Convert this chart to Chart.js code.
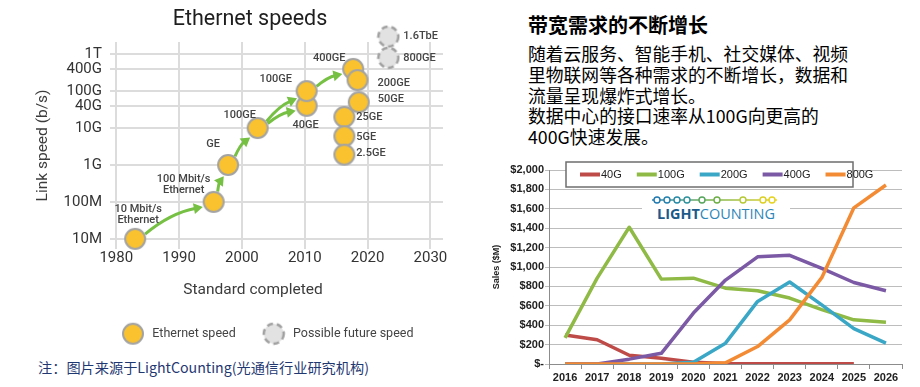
<!DOCTYPE html>
<html lang="zh-CN">
<head>
<meta charset="utf-8">
<title>Ethernet speeds / 带宽需求的不断增长</title>
<script src="https://cdn.jsdelivr.net/npm/chart.js@4.4.1/dist/chart.umd.min.js"></script>
<style>
  html, body { margin: 0; padding: 0; background: #fff; }
  body { position: relative; width: 920px; height: 387px; overflow: hidden; }
  #speedBox { position: absolute; left: 0; top: 0; width: 460px; height: 350px; }
  #salesBox { position: absolute; left: 485px; top: 155px; width: 435px; height: 232px; }
  .note { position: absolute; left: 38px; top: 357px; font: 14.2px/20px "Noto Sans CJK SC", sans-serif; color: #1f3872; white-space: nowrap; }
  .heading { position: absolute; left: 528px; top: 12px; font: bold 20px/26px "Noto Sans CJK SC", sans-serif; color: #000; white-space: nowrap; }
  .body { position: absolute; left: 528px; top: 43px; font: 17.8px/20.8px "Noto Sans CJK SC", sans-serif; color: #000; white-space: nowrap; }
  .logo { position: absolute; left: 642px; top: 193px; width: 148px; height: 33px; background: #fff; }
</style>
</head>
<body>
<div id="speedBox"><canvas id="speedChart"></canvas></div>
<div class="note">注：图片来源于LightCounting(光通信行业研究机构)</div>

<div class="heading">带宽需求的不断增长</div>
<div class="body">随着云服务、智能手机、社交媒体、视频<br>里物联网等各种需求的不断增长，数据和<br>流量呈现爆炸式增长。<br>数据中心的接口速率从100G向更高的<br>400G快速发展。</div>

<div id="salesBox"><canvas id="salesChart"></canvas></div>
<div class="logo">
  <svg width="148" height="33" viewBox="0 0 148 33">
    <defs>
      <linearGradient id="lcLine" gradientUnits="userSpaceOnUse" x1="10" y1="7" x2="135" y2="7">
        <stop offset="0" stop-color="#1f78b0"/>
        <stop offset="0.45" stop-color="#6cae46"/>
        <stop offset="1" stop-color="#e6d21c"/>
      </linearGradient>
    </defs>
    <rect x="10" y="6.3" width="125" height="1.4" fill="url(#lcLine)"/>
    <g fill="#fff" stroke-width="1.4">
      <circle cx="15" cy="7" r="3" stroke="#1f78b0"/>
      <circle cx="25" cy="7" r="3" stroke="#2180ad"/>
      <circle cx="35" cy="7" r="3" stroke="#2589a6"/>
      <circle cx="45" cy="7" r="3" stroke="#2c919c"/>
      <circle cx="60" cy="7" r="3" stroke="#55a45b"/>
      <circle cx="75" cy="7" r="3" stroke="#6cae46"/>
      <circle cx="101" cy="7" r="3" stroke="#b5c933"/>
      <circle cx="121" cy="7" r="3" stroke="#dccf22"/>
      <circle cx="130" cy="7" r="3" stroke="#e6d21c"/>
    </g>
    <text x="15" y="25.5" font-family="'Open Sans', 'Liberation Sans', sans-serif" font-size="15" textLength="118" lengthAdjust="spacingAndGlyphs"><tspan font-weight="bold" fill="#1b5a8a">LIGHT</tspan><tspan fill="#2d86b8">COUNTING</tspan></text>
  </svg>
</div>

<script>
// ---------- Ethernet speeds (left) ----------
const ethernetYears  = [1983, 1995.5, 1997.8, 2002.5, 2010.3, 2010.3, 2017.7, 2018.4, 2018.6, 2016.3, 2016.3, 2016.3];
const ethernetSpeeds = [1e7, 1e8, 1e9, 1e10, 4e10, 1e11, 4e11, 2e11, 5e10, 2e10, 6e9, 1.9e9];
const ethernetNames  = ["10 Mbit/s\nEthernet", "100 Mbit/s\nEthernet", "GE", "100GE", "40GE", "100GE",
                        "400GE", "200GE", "50GE", "25GE", "5GE", "2.5GE"];
const futureYears    = [2023.3, 2023.3];
const futureSpeeds   = [3e12, 8e11];
const futureNames    = ["1.6TbE", "800GE"];
const arrowLinks     = [[0, 1], [1, 2], [2, 3], [3, 5], [3, 4], [5, 6]];
const yearTicks      = [1980, 1990, 2000, 2010, 2020, 2030];
const speedTicks     = [1e7, 1e8, 1e9, 1e10, 4e10, 1e11, 4e11, 1e12];
const speedTickLabels = ["10M", "100M", "1G", "10G", "40G", "100G", "400G", "1T"];

// ---------- Sales by speed (right) ----------
const salesYears = ["2016", "2017", "2018", "2019", "2020", "2021", "2022", "2023", "2024", "2025", "2026"];
const sales40G   = [300, 250, 90, 60, 18, 6, 2, 2, 2, 2, null];
const sales100G  = [270, 885, 1410, 875, 885, 782, 755, 680, 560, 455, 430];
const sales200G  = [0, 0, 0, 0, 18, 215, 645, 845, 610, 365, 215];
const sales400G  = [0, 0, 50, 110, 525, 865, 1105, 1120, 985, 840, 755];
const sales800G  = [0, 0, 0, 0, 0, 12, 180, 455, 890, 1610, 1845];

const SANS = "Roboto, 'Noto Sans', sans-serif";
const EXCEL = "'Liberation Sans Narrow', 'Liberation Sans', Arial, sans-serif";

// point markers as small canvases so chart and legend share them
function marker(fill, stroke, dashed) {
  const c = document.createElement("canvas");
  c.width = c.height = 24;
  const g = c.getContext("2d");
  g.beginPath();
  g.arc(12, 12, 10, 0, Math.PI * 2);
  g.fillStyle = fill;
  g.fill();
  g.lineWidth = dashed ? 2.5 : 2;
  g.strokeStyle = stroke;
  if (dashed) g.setLineDash([6, 4]);
  g.stroke();
  return c;
}
const solidDot  = marker("#f9c22e", "#a3a3a3", false);
const dashedDot = marker("#e2e2e2", "#a0a0a0", true);

// label offsets from each point: [dx, dy, align]
const ethernetLabelPos = [
  [3, -30, "center"], [-30, -23, "center"], [-15, -21, "center"], [-18, -13, "center"],
  [-1, 19, "center"], [-31, -12, "center"], [-24, -11, "center"], [20, 3, "left"],
  [19, -3, "left"], [12, 0, "left"], [12, 1, "left"], [12, -1, "left"],
];
const futureLabelPos = [[15, 0, "left"], [15, 0, "left"]];

/* ── arrows, point labels and titles for the Ethernet chart ── */
const speedNotes = {
  id: "speedNotes",
  beforeDatasetsDraw(chart) {
    const pts = chart.getDatasetMeta(0).data;
    const ctx = chart.ctx;
    ctx.save();
    ctx.strokeStyle = ctx.fillStyle = "#76c043";
    ctx.lineWidth = 3;
    arrowLinks.forEach(([a, b]) => {
      const p = pts[a], q = pts[b];
      const dx = q.x - p.x, dy = q.y - p.y, len = Math.hypot(dx, dy);
      const ux = dx / len, uy = dy / len;
      const sx = p.x + ux * 11, sy = p.y + uy * 11;
      const ex = q.x - ux * 12, ey = q.y - uy * 12;
      const bend = (len - 23) * 0.13;
      const cx = (sx + ex) / 2 + uy * bend, cy = (sy + ey) / 2 - ux * bend;
      const tx = ex - cx, ty = ey - cy, tl = Math.hypot(tx, ty);
      const hx = tx / tl, hy = ty / tl, head = 9;
      const bx = ex - hx * head, by = ey - hy * head;
      ctx.beginPath();
      ctx.moveTo(sx, sy);
      ctx.quadraticCurveTo(cx, cy, bx + hx * 2, by + hy * 2);
      ctx.stroke();
      ctx.beginPath();
      ctx.moveTo(ex, ey);
      ctx.lineTo(bx - hy * 5.5, by + hx * 5.5);
      ctx.lineTo(bx + hy * 5.5, by - hx * 5.5);
      ctx.closePath();
      ctx.fill();
    });
    ctx.restore();
  },
  afterDatasetsDraw(chart) {
    const ctx = chart.ctx;
    ctx.save();
    ctx.textBaseline = "middle";
    ctx.fillStyle = "#444";
    ctx.font = "500 11px " + SANS;
    [[0, ethernetNames, ethernetLabelPos], [1, futureNames, futureLabelPos]].forEach(([d, names, pos]) => {
      chart.getDatasetMeta(d).data.forEach((pt, i) => {
        const [dx, dy, align] = pos[i];
        ctx.textAlign = align;
        names[i].split("\n").forEach((line, k) => ctx.fillText(line, pt.x + dx, pt.y + dy + k * 11));
      });
    });
    ctx.textAlign = "center";
    ctx.fillStyle = "#1e1e1e";
    ctx.font = "21.5px " + SANS;
    ctx.fillText("Ethernet speeds", 250, 20);
    ctx.fillStyle = "#3c3c3c";
    ctx.font = "15.5px " + SANS;
    ctx.fillText("Standard completed", 253, 290);
    ctx.restore();
  },
};

// the legend row starts a little left of where Chart.js would centre it
const nudgeLegend = {
  id: "nudgeLegend",
  afterLayout(chart) {
    const lg = chart.legend;
    if (!lg || !lg.lineWidths) return;
    const pad = lg.options.labels.padding;
    const start = (lg.left + pad + lg.right - lg.lineWidths[0]) / 2;
    const dx = 120 - start;
    lg.left += dx;
    lg.right += dx;
  },
};

const gridGrey = "#dcdcdc";

new Chart(document.getElementById("speedChart"), {
  type: "scatter",
  data: {
    datasets: [
      {
        label: "Ethernet speed",
        data: ethernetYears.map((x, i) => ({ x, y: ethernetSpeeds[i] })),
        pointStyle: solidDot,
        pointRadius: 10,
        clip: false,
      },
      {
        label: "Possible future speed",
        data: futureYears.map((x, i) => ({ x, y: futureSpeeds[i] })),
        pointStyle: dashedDot,
        pointRadius: 10,
        clip: false,
      },
    ],
  },
  options: {
    responsive: true,
    maintainAspectRatio: false,
    animation: false,
    layout: { padding: { top: 42, left: 30, right: 17, bottom: 0 } },
    plugins: {
      legend: {
        position: "bottom",
        labels: {
          usePointStyle: true,
          pointStyleWidth: 26,
          padding: 25,
          color: "#444",
          font: { family: SANS, size: 12.5 },
        },
      },
      tooltip: { enabled: false },
    },
    scales: {
      x: {
        type: "linear",
        min: 1979,
        max: 2032,
        afterBuildTicks: (s) => { s.ticks = yearTicks.map((v) => ({ value: v })); },
        afterFit: (s) => { s.height = 53.5; },
        grid: { color: gridGrey, lineWidth: 2, drawTicks: false },
        border: { display: false },
        ticks: { padding: 0, color: "#333", font: { family: SANS, size: 15 }, callback: (v) => String(v) },
      },
      y: {
        type: "logarithmic",
        min: 5.3e6,
        max: 2.14e12,
        afterBuildTicks: (s) => { s.ticks = speedTicks.map((v) => ({ value: v })); },
        afterFit: (s) => { s.width = 80; },
        grid: { color: gridGrey, lineWidth: 2, drawTicks: false },
        border: { display: false },
        ticks: { padding: 8, color: "#333", font: { family: SANS, size: 15 }, callback: (v, i) => speedTickLabels[i] },
        title: {
          display: true,
          text: "Link speed (b/s)",
          color: "#3c3c3c",
          font: { family: SANS, size: 15.5 },
          padding: { top: 3.7, bottom: 0 },
        },
      },
    },
  },
  plugins: [speedNotes, nudgeLegend],
});

/* ── boxed legend drawn over the top of the sales plot ── */
const salesLegend = {
  id: "salesLegend",
  afterDatasetsDraw(chart) {
    const ctx = chart.ctx;
    const bx = 81, by = 7, bw = 287, bh = 25;
    ctx.save();
    ctx.fillStyle = "#fff";
    ctx.fillRect(bx, by, bw, bh);
    ctx.strokeStyle = "#6e6e6e";
    ctx.lineWidth = 1.5;
    ctx.strokeRect(bx, by, bw, bh);
    ctx.font = "11px " + EXCEL;
    ctx.textBaseline = "middle";
    ctx.textAlign = "left";
    const cy = by + bh / 2;
    let x = bx + 14;
    chart.data.datasets.forEach((ds) => {
      ctx.strokeStyle = ds.borderColor;
      ctx.lineWidth = 4;
      ctx.beginPath();
      ctx.moveTo(x, cy);
      ctx.lineTo(x + 20, cy);
      ctx.stroke();
      ctx.fillStyle = "#222";
      ctx.fillText(ds.label, x + 21, cy);
      x += 21 + ctx.measureText(ds.label).width + 15;
    });
    ctx.restore();
  },
};

const series = (label, data, color, order) => ({
  label, data, order,
  borderColor: color,
  backgroundColor: color,
  borderWidth: 3.5,
  pointRadius: 0,
  tension: 0,
  borderJoinStyle: "round",
  spanGaps: false,
});

const axisGrey = "#8c8c8c";

new Chart(document.getElementById("salesChart"), {
  type: "line",
  data: {
    labels: salesYears,
    datasets: [
      series("40G", sales40G, "#be4b48", 5),
      series("100G", sales100G, "#8fba45", 4),
      series("200G", sales200G, "#3ba7c6", 3),
      series("400G", sales400G, "#7b59a5", 2),
      series("800G", sales800G, "#f38b35", 1),
    ],
  },
  options: {
    responsive: true,
    maintainAspectRatio: false,
    animation: false,
    layout: { padding: { top: 15, left: 4, right: 18, bottom: 0 } },
    plugins: { legend: { display: false }, tooltip: { enabled: false } },
    scales: {
      x: {
        offset: true,
        afterFit: (s) => { s.height = 23; },
        grid: { offset: true, drawOnChartArea: false, tickLength: 5, color: axisGrey },
        border: { color: axisGrey },
        ticks: { padding: 2, color: "#222", font: { family: EXCEL, size: 11, weight: "bold" } },
      },
      y: {
        min: 0,
        max: 2000,
        afterFit: (s) => { s.width = 60; },
        grid: { color: "#bdbdbd", tickLength: 4 },
        border: { color: axisGrey },
        ticks: {
          stepSize: 200,
          padding: 1,
          color: "#222",
          font: { family: EXCEL, size: 11, weight: "bold" },
          callback: (v) => (v === 0 ? "$-" : "$" + v.toLocaleString("en-US")),
        },
        title: {
          display: true,
          text: "Sales ($M)",
          color: "#222",
          font: { family: EXCEL, size: 9, weight: "bold" },
          padding: { top: 2, bottom: 0 },
        },
      },
    },
  },
  plugins: [salesLegend],
});
</script>
</body>
</html>
